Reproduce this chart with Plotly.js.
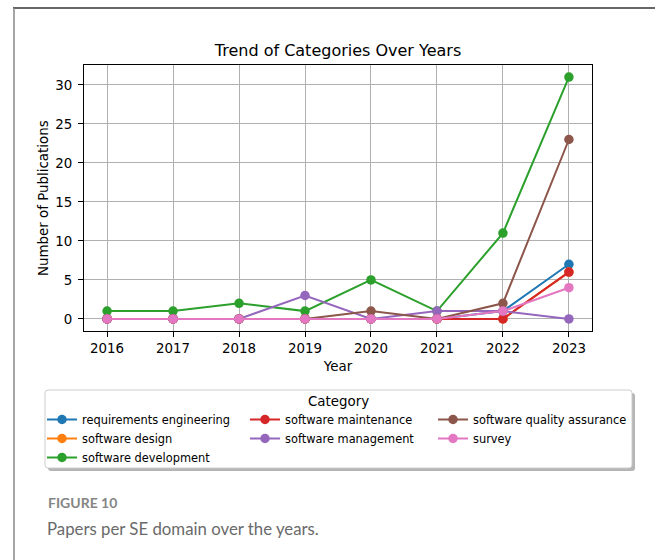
<!DOCTYPE html>
<html>
<head>
<meta charset="utf-8">
<script src="https://cdn.plot.ly/plotly-3.0.1.min.js"></script>
<style>
  html, body { margin: 0; padding: 0; background: #fff; }
  #chart { width: 655px; height: 560px; }
</style>
</head>
<body>
<div id="chart"></div>
<script>
// Publications per year for each software-engineering category
const years = [2016, 2017, 2018, 2019, 2020, 2021, 2022, 2023];
const requirementsEngineering = [0, 0, 0, 0, 0, 0, 1, 7];
const softwareDesign          = [0, 0, 0, 0, 0, 0, 0, 6];
const softwareDevelopment     = [1, 1, 2, 1, 5, 1, 11, 31];
const softwareMaintenance     = [0, 0, 0, 0, 0, 0, 0, 6];
const softwareManagement      = [0, 0, 0, 3, 0, 1, 1, 0];
const softwareQualityAssurance= [0, 0, 0, 0, 1, 0, 2, 23];
const survey                  = [0, 0, 0, 0, 0, 0, 1, 4];
const yTicks = [0, 5, 10, 15, 20, 25, 30];

const W = 655, H = 560;
// plot area in pixels
const L = 84, R = 592, T = 65, B = 331;
const fx = x => (x - L) / (R - L);
const fy = y => (B - y) / (B - T);

const FONT = 'DejaVu Sans, sans-serif';

const series = [
  { name: 'requirements engineering', y: requirementsEngineering, color: '#1f77b4', legend: 'legend' },
  { name: 'software design', y: softwareDesign, color: '#ff7f0e', legend: 'legend' },
  { name: 'software development', y: softwareDevelopment, color: '#2ca02c', legend: 'legend' },
  { name: 'software maintenance', y: softwareMaintenance, color: '#d62728', legend: 'legend2' },
  { name: 'software management', y: softwareManagement, color: '#9467bd', legend: 'legend2' },
  { name: 'software quality assurance', y: softwareQualityAssurance, color: '#8c564b', legend: 'legend3' },
  { name: 'survey', y: survey, color: '#e377c2', legend: 'legend3' }
];

const traces = series.map(s => ({
  type: 'scatter',
  mode: 'lines+markers',
  x: years,
  y: s.y,
  name: s.name,
  legend: s.legend,
  line: { color: s.color, width: 2 },
  marker: { color: s.color, size: 9.5 },
  hoverinfo: 'x+y+name'
}));

function roundRect(x0, y0, x1, y1, r) {
  // pixel box -> paper-coordinate SVG path with rounded corners
  const P = (x, y) => fx(x) + ',' + fy(y);
  return 'M' + P(x0 + r, y0) + ' L' + P(x1 - r, y0) +
    ' Q' + P(x1, y0) + ' ' + P(x1, y0 + r) +
    ' L' + P(x1, y1 - r) + ' Q' + P(x1, y1) + ' ' + P(x1 - r, y1) +
    ' L' + P(x0 + r, y1) + ' Q' + P(x0, y1) + ' ' + P(x0, y1 - r) +
    ' L' + P(x0, y0 + r) + ' Q' + P(x0, y0) + ' ' + P(x0 + r, y0) + ' Z';
}

const legendBox = { x0: 45, y0: 390, x1: 632, y1: 468 };

const shapes = [
  // figure frame
  { type: 'line', xref: 'paper', yref: 'paper', x0: fx(13), x1: fx(656), y0: fy(8), y1: fy(8),
    line: { color: '#333', width: 1.5 } },
  { type: 'line', xref: 'paper', yref: 'paper', x0: fx(14), x1: fx(14), y0: fy(8), y1: fy(561),
    line: { color: '#888', width: 1.5 } },
  // legend shadow and box
  { type: 'path', xref: 'paper', yref: 'paper', layer: 'above',
    path: roundRect(legendBox.x0 + 3, legendBox.y0 + 3, legendBox.x1 + 3, legendBox.y1 + 3, 3),
    fillcolor: 'rgba(120,120,120,0.55)', line: { width: 0 } },
  { type: 'path', xref: 'paper', yref: 'paper', layer: 'above',
    path: roundRect(legendBox.x0, legendBox.y0, legendBox.x1, legendBox.y1, 3),
    fillcolor: '#ffffff', line: { color: '#cccccc', width: 1 } }
];

const annotations = [
  // y-axis title
  { xref: 'paper', yref: 'paper', x: fx(43), y: 0.5, xanchor: 'center', yanchor: 'middle',
    textangle: -90, text: 'Number of Publications', showarrow: false,
    font: { family: FONT, size: 13.4, color: '#000' } },
  { xref: 'paper', yref: 'paper', x: fx(338), y: fy(401), xanchor: 'center', yanchor: 'middle',
    text: 'Category', showarrow: false, font: { family: FONT, size: 13.4, color: '#000' } },
  { xref: 'paper', yref: 'paper', x: fx(46), y: fy(503), xanchor: 'left', yanchor: 'middle',
    text: '<b>FIGURE 10</b>', showarrow: false, font: { family: 'Lato, sans-serif', size: 14, color: '#858585' } },
  { xref: 'paper', yref: 'paper', x: fx(45), y: fy(528), xanchor: 'left', yanchor: 'middle',
    text: 'Papers per SE domain over the years.', showarrow: false,
    font: { family: 'Lato, sans-serif', size: 16.8, color: '#6a6a6a' } }
];

function legendAt(x, y) {
  return {
    xref: 'container', yref: 'container',
    x: x / W, y: 1 - y / H, xanchor: 'left', yanchor: 'top',
    bgcolor: 'rgba(0,0,0,0)', borderwidth: 0,
    font: { family: FONT, size: 11.4, color: '#000' },
    itemwidth: 30, tracegroupgap: 0, orientation: 'v'
  };
}

const layout = {
  width: W, height: H,
  margin: { l: L, r: W - R, t: T, b: H - B, pad: 0, autoexpand: false },
  paper_bgcolor: '#fff', plot_bgcolor: '#fff',
  title: {
    text: 'Trend of Categories Over Years',
    font: { family: FONT, size: 16, color: '#000' },
    x: 0.5, xref: 'paper', xanchor: 'center',
    y: 1 - 50 / H, yref: 'container', yanchor: 'middle'
  },
  xaxis: {
    range: [2015.65, 2023.35],
    tickvals: years, ticktext: years.map(String),
    ticks: 'outside', ticklen: 5, tickwidth: 1, tickcolor: '#000',
    showline: true, mirror: true, linecolor: '#000', linewidth: 1,
    showgrid: true, gridcolor: '#b0b0b0', gridwidth: 1, zeroline: false,
    tickfont: { family: FONT, size: 13.4, color: '#000' },
    title: { text: 'Year', font: { family: FONT, size: 13.4, color: '#000' }, standoff: 6 }
  },
  yaxis: {
    range: [-1.55, 32.55],
    tickvals: yTicks, ticktext: yTicks.map(String),
    ticks: 'outside', ticklen: 5, tickwidth: 1, tickcolor: '#000',
    showline: true, mirror: true, linecolor: '#000', linewidth: 1,
    showgrid: true, gridcolor: '#b0b0b0', gridwidth: 1, zeroline: false,
    tickfont: { family: FONT, size: 13.4, color: '#000' },
    ticklabelstandoff: 3
  },
  showlegend: true,
  legend: legendAt(42, 405),
  legend2: legendAt(245, 405),
  legend3: legendAt(433, 405),
  shapes: shapes,
  annotations: annotations
};

Plotly.newPlot('chart', traces, layout, { displayModeBar: false, staticPlot: true });
</script>
</body>
</html>
